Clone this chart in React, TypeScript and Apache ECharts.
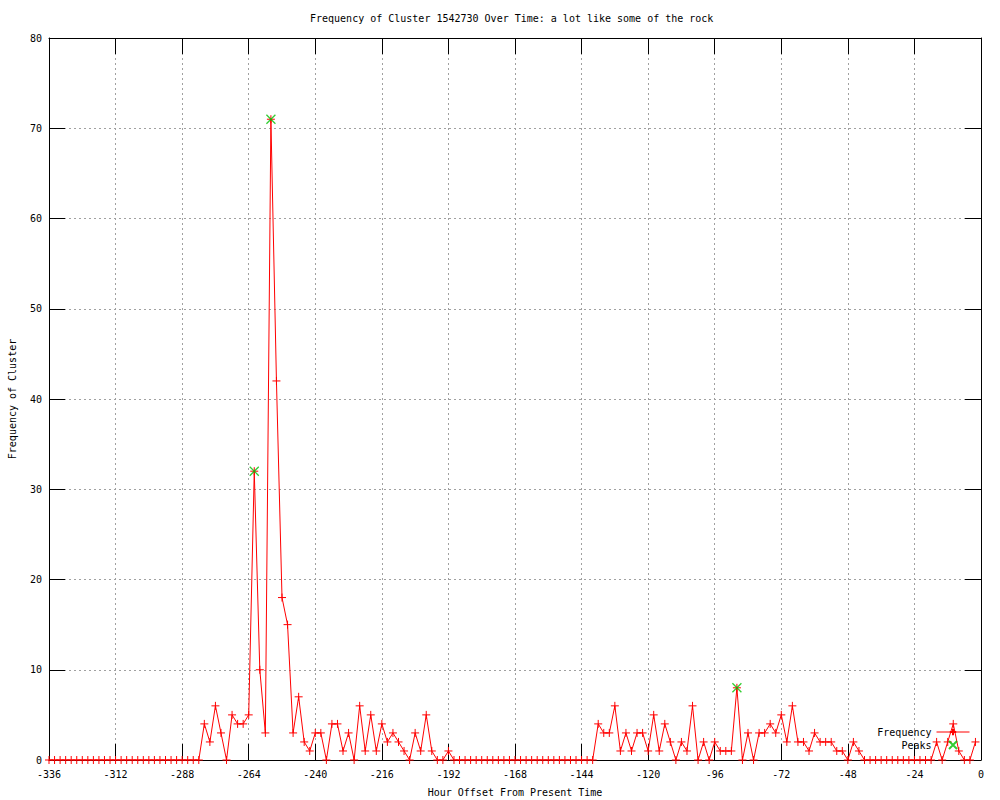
import React, { useEffect, useRef } from "react";
import * as echarts from "echarts";

const chartTitle = "Frequency of Cluster 1542730 Over Time: a lot like some of the rock";
const xAxisName = "Hour Offset From Present Time";
const yAxisName = "Frequency of Cluster";

// hours run from -336 in steps of 2
const hourStart = -336;
const hourStep = 2;

const frequency = [
  // -336 .. -282
  0, 0, 0, 0, 0, 0, 0, 0, 0, 0, 0, 0, 0, 0, 0, 0, 0, 0, 0, 0, 0, 0, 0, 0, 0, 0, 0, 0,
  // -280 .. -192
  4, 2, 6, 3, 0, 5, 4, 4, 5, 32, 10, 3, 71, 42, 18, 15, 3, 7, 2, 1, 3, 3, 0, 4, 4,
  1, 3, 0, 6, 1, 5, 1, 4, 2, 3, 2, 1, 0, 3, 1, 5, 1, 0, 0, 1,
  // -190 .. -140
  0, 0, 0, 0, 0, 0, 0, 0, 0, 0, 0, 0, 0, 0, 0, 0, 0, 0, 0, 0, 0, 0, 0, 0, 0, 0,
  // -138 .. -42
  4, 3, 3, 6, 1, 3, 1, 3, 3, 1, 5, 1, 4, 2, 0, 2, 1, 6, 0, 2, 0, 2, 1, 1, 1,
  8, 0, 3, 0, 3, 3, 4, 3, 5, 2, 6, 2, 2, 1, 3, 2, 2, 2, 1, 1, 0, 2, 1, 0,
  // -40 .. -18
  0, 0, 0, 0, 0, 0, 0, 0, 0, 0, 0, 0,
  // -16 .. -2
  2, 0, 2, 4, 1, 0, 0, 2,
];

const peakHours = [-262, -256, -88];
const peakValues = [32, 71, 8];

const xMin = -336;
const xMax = 0;
const xInterval = 24;
const yMin = 0;
const yMax = 80;
const yInterval = 10;

const FONT = "DejaVu Sans Mono";
const PLUS = "path://M0,4L8,4M4,0L4,8";
const CROSS = "path://M0,0L8,8M8,0L0,8";

export default function App() {
  const ref = useRef<HTMLDivElement>(null);

  useEffect(() => {
    if (!ref.current) return;
    const chart = echarts.init(ref.current, undefined, { renderer: "svg" });

    const freqData = frequency.map((v, i) => [hourStart + i * hourStep, v]);
    const peakData = peakHours.map((h, i) => [h, peakValues[i]]);

    const tickCommon = {
      show: true,
      inside: true,
      length: 16,
      lineStyle: { color: "#000", width: 1 },
    };
    const lineCommon = { show: true, onZero: false, lineStyle: { color: "#000", width: 1 } };
    const gridLine = {
      show: true,
      lineStyle: { color: "#a0a0a0", width: 1, type: [2, 3] as any },
    };
    const labelCommon = { color: "#000", fontFamily: FONT, fontSize: 10 };

    chart.setOption({
      animation: false,
      backgroundColor: "#fff",
      title: {
        text: chartTitle,
        left: 310,
        top: 13,
        padding: 0,
        textStyle: { fontFamily: FONT, fontSize: 10, fontWeight: "normal", color: "#000" },
      },
      grid: {
        left: 49,
        right: 19,
        top: 38,
        bottom: 40,
        containLabel: false,
        outerBoundsMode: "none",
      },
      legend: {
        orient: "vertical",
        right: 30,
        top: 727,
        align: "right",
        itemWidth: 33,
        itemHeight: 8,
        itemGap: 3,
        padding: 0,
        textStyle: { fontFamily: FONT, fontSize: 10, color: "#000", lineHeight: 10 },
        data: [
          { name: "Frequency", lineStyle: { width: 1 } } as any,
          { name: "Peaks" },
        ],
      },
      xAxis: [
        {
          type: "value",
          min: xMin,
          max: xMax,
          interval: xInterval,
          name: xAxisName,
          nameLocation: "middle",
          nameGap: 27,
          nameTextStyle: labelCommon,
          axisLine: lineCommon,
          axisTick: tickCommon,
          axisLabel: { ...labelCommon, margin: 9 },
          splitLine: gridLine,
        },
        {
          type: "value",
          position: "top",
          min: xMin,
          max: xMax,
          interval: xInterval,
          axisLine: lineCommon,
          axisTick: tickCommon,
          axisLabel: { show: false },
          splitLine: { show: false },
        },
      ],
      yAxis: [
        {
          type: "value",
          position: "left",
          min: yMin,
          max: yMax,
          interval: yInterval,
          name: yAxisName,
          nameLocation: "middle",
          nameRotate: 90,
          nameGap: 32,
          nameTextStyle: labelCommon,
          axisLine: lineCommon,
          axisTick: tickCommon,
          axisLabel: { ...labelCommon, margin: 7 },
          splitLine: gridLine,
        },
        {
          type: "value",
          position: "right",
          min: yMin,
          max: yMax,
          interval: yInterval,
          axisLine: lineCommon,
          axisTick: tickCommon,
          axisLabel: { show: false },
          splitLine: { show: false },
        },
      ],
      series: [
        {
          name: "Frequency",
          type: "line",
          data: freqData,
          symbol: PLUS,
          symbolSize: 8,
          showAllSymbol: true,
          z: 3,
          lineStyle: { color: "#ff0000", width: 1 },
          itemStyle: { color: "#ff0000", borderColor: "#ff0000", borderWidth: 1 },
        },
        {
          name: "Peaks",
          type: "scatter",
          data: peakData,
          symbol: CROSS,
          symbolSize: 9,
          z: 5,
          itemStyle: { color: "#00c000", borderColor: "#00c000", borderWidth: 1.3 },
        },
      ],
    });

    return () => chart.dispose();
  }, []);

  return (
    <div
      ref={ref}
      style={{ position: "absolute", left: 0, top: 0, width: 1000, height: 800 }}
    />
  );
}
